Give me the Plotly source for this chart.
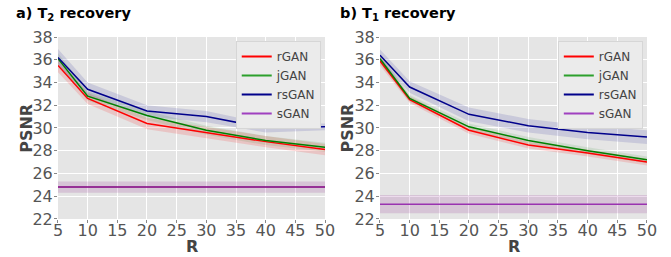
import plotly.graph_objects as go

R = [5, 10, 20, 30, 40, 50]
series = ["rGAN", "jGAN", "rsGAN", "sGAN"]

# T2 recovery (panel a)
t2_rGAN = [35.5, 32.6, 30.4, 29.6, 28.8, 28.1]
t2_jGAN = [36.1, 32.8, 31.1, 29.8, 28.9, 28.3]
t2_rsGAN = [36.2, 33.4, 31.5, 31.0, 30.0, 30.1]
t2_sGAN = [24.8, 24.8, 24.8, 24.8, 24.8, 24.8]
t2_rGAN_sd = [0.6, 0.5, 0.5, 0.5, 0.5, 0.5]
t2_jGAN_sd = [0.5, 0.4, 0.4, 0.4, 0.4, 0.4]
t2_rsGAN_sd = [0.75, 0.6, 0.5, 0.5, 0.4, 0.3]
t2_sGAN_sd = [0.5, 0.5, 0.5, 0.5, 0.5, 0.5]

# T1 recovery (panel b)
t1_rGAN = [35.9, 32.5, 29.8, 28.5, 27.8, 27.0]
t1_jGAN = [36.1, 32.6, 30.1, 28.9, 28.0, 27.2]
t1_rsGAN = [36.4, 33.6, 31.2, 30.2, 29.6, 29.2]
t1_sGAN = [23.3, 23.3, 23.3, 23.3, 23.3, 23.3]
t1_rGAN_sd = [0.4, 0.3, 0.3, 0.3, 0.3, 0.3]
t1_jGAN_sd = [0.4, 0.3, 0.3, 0.3, 0.3, 0.3]
t1_rsGAN_sd = [0.5, 0.5, 0.6, 0.6, 0.6, 0.6]
t1_sGAN_sd = [0.8, 0.8, 0.8, 0.8, 0.8, 0.8]

x_ticks = [5, 10, 15, 20, 25, 30, 35, 40, 45, 50]
y_ticks = [22, 24, 26, 28, 30, 32, 34, 36, 38]

colors = {"rGAN": "#ff0000", "jGAN": "#008000", "rsGAN": "#00008b", "sGAN": "#800080"}
fills = {"rGAN": "rgba(255,0,0,0.14)", "jGAN": "rgba(0,128,0,0.10)",
         "rsGAN": "rgba(0,0,139,0.12)", "sGAN": "rgba(128,0,128,0.14)"}
legend_colors = {"rGAN": "#ff0000", "jGAN": "#2ca02c", "rsGAN": "#00008b", "sGAN": "#a040c0"}

panels = [
    ("x", "y", "legend", {"rGAN": (t2_rGAN, t2_rGAN_sd), "jGAN": (t2_jGAN, t2_jGAN_sd),
                          "rsGAN": (t2_rsGAN, t2_rsGAN_sd), "sGAN": (t2_sGAN, t2_sGAN_sd)}),
    ("x2", "y2", "legend2", {"rGAN": (t1_rGAN, t1_rGAN_sd), "jGAN": (t1_jGAN, t1_jGAN_sd),
                             "rsGAN": (t1_rsGAN, t1_rsGAN_sd), "sGAN": (t1_sGAN, t1_sGAN_sd)}),
]

fig = go.Figure()
for xa, ya, lg, data in panels:
    for s in series:
        vals, sd = data[s]
        up = [v + d for v, d in zip(vals, sd)]
        lo = [v - d for v, d in zip(vals, sd)]
        fig.add_trace(go.Scatter(x=R + R[::-1], y=up + lo[::-1], fill="toself",
                                 fillcolor=fills[s], line=dict(width=0), mode="lines",
                                 hoverinfo="skip", showlegend=False, xaxis=xa, yaxis=ya))
    for s in series:
        vals, sd = data[s]
        c = colors[s]
        if s == "sGAN" and xa == "x2":
            c = "#9932b0"
        fig.add_trace(go.Scatter(x=R, y=vals, mode="lines", name=s,
                                 line=dict(color=c, width=1.5),
                                 showlegend=False, xaxis=xa, yaxis=ya))
    for s in series:
        fig.add_trace(go.Scatter(x=[None], y=[None], mode="lines", name=s,
                                 line=dict(color=legend_colors[s], width=2),
                                 legend=lg, xaxis=xa, yaxis=ya))

tick_font = dict(family="DejaVu Sans", size=16, color="#555")
axis_common = dict(range=[5, 50], tickvals=x_ticks, showgrid=True, gridcolor="white",
                   gridwidth=1, zeroline=False, ticks="outside", ticklen=3,
                   tickcolor="#888", tickfont=tick_font, showline=False, automargin=False,
                   ticklabelstandoff=-6)
yaxis_common = dict(range=[22, 38], tickvals=y_ticks, showgrid=True, gridcolor="white",
                    gridwidth=1, zeroline=False, ticks="outside", ticklen=3,
                    tickcolor="#888", tickfont=tick_font, showline=False, automargin=False,
                    ticklabelstandoff=-2)

legend_common = dict(xanchor="right", yanchor="top",
                     bgcolor="#ebebeb", bordercolor="#d6d6d6", borderwidth=1,
                     font=dict(family="DejaVu Sans", size=12, color="#444"),
                     tracegroupgap=0, itemwidth=30)

def ann(text, x, y, size, color, xanchor="center", angle=0, family="DejaVu Sans"):
    return dict(text=text, x=x, y=y, xref="paper", yref="paper", xanchor=xanchor,
                yanchor="middle", showarrow=False, textangle=angle,
                font=dict(family=family, size=size, color=color))

fig.update_layout(
    width=671, height=257,
    margin=dict(l=0, r=0, t=0, b=0, autoexpand=False),
    paper_bgcolor="white",
    plot_bgcolor="#e5e5e5",
    xaxis=dict(domain=[0.0864, 0.4844], anchor="y", **axis_common),
    yaxis=dict(domain=[0.148, 0.856], anchor="x", **yaxis_common),
    xaxis2=dict(domain=[0.5663, 0.9642], anchor="y2", **axis_common),
    yaxis2=dict(domain=[0.148, 0.856], anchor="x2", **yaxis_common),
    legend=dict(x=0.478, y=0.84, **legend_common),
    legend2=dict(x=0.958, y=0.84, **legend_common),
    annotations=[
        ann("<b>a) T<sub>2</sub> recovery</b>", 0.021, 0.945, 14.5, "black", xanchor="left"),
        ann("<b>b) T<sub>1</sub> recovery</b>", 0.504, 0.945, 14.5, "black", xanchor="left"),
        ann("<b>R</b>", 0.2854, 0.039, 16, "#444"),
        ann("<b>R</b>", 0.7653, 0.039, 16, "#444"),
        ann("<b>PSNR</b>", 0.040, 0.502, 16, "#444", angle=-90),
        ann("<b>PSNR</b>", 0.518, 0.502, 16, "#444", angle=-90),
    ],
)

fig.write_html("out.html", config={"displayModeBar": False},
               post_script="document.body.style.margin='0px';document.body.style.overflow='hidden';")
